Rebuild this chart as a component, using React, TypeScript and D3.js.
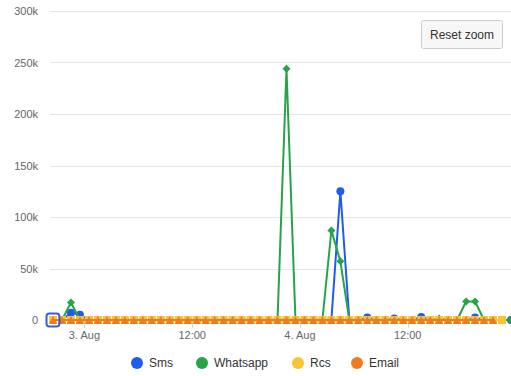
import * as d3 from "d3";
import { useEffect, useRef } from "react";

const WIDTH = 511;
const HEIGHT = 376;

// hourly points, first one at 2 Aug 20:30 UTC
const START = Date.UTC(2023, 7, 2, 20, 30);
const POINT_COUNT = 52;

const SMS = [
  0, 0, 7000, 5000, 0, 0, 0, 0, 0, 0, 0, 0, 0, 0, 0, 0, 0, 0, 0, 0, 0, 0, 0, 0, 0, 0,
  0, 0, 0, 0, 0, 0, 125000, 0, 0, 2500, 0, 0, 1500, 0, 0, 3000, 0, 0, 0, 0, 0, 2500, 0, 0, 0, 0,
];
const WHATSAPP = [
  0, 0, 17000, 0, 0, 0, 0, 0, 0, 0, 0, 0, 0, 0, 0, 0, 0, 0, 0, 0, 0, 0, 0, 0, 0, 0,
  244000, 0, 0, 0, 0, 87000, 57000, 0, 0, 0, 0, 0, 0, 0, 0, 0, 0, 1500, 0, 0, 18000, 18000, 0, 0, 0, 0,
];
const RCS = [
  0, 0, 0, 0, 0, 0, 0, 0, 0, 0, 0, 0, 0, 0, 0, 0, 0, 0, 0, 0, 0, 0, 0, 0, 0, 0,
  0, 0, 0, 0, 0, 0, 0, 0, 0, 0, 0, 0, 0, 0, 0, 0, 0, 0, 0, 0, 0, 0, 0, 0, 0,
];
const EMAIL = [
  0, 0, 0, 0, 0, 0, 0, 0, 0, 0, 0, 0, 0, 0, 0, 0, 0, 0, 0, 0, 0, 0, 0, 0, 0, 0,
  0, 0, 0, 0, 0, 0, 0, 0, 0, 0, 0, 0, 0, 0, 0, 0, 0, 0, 0, 0, 0, 0, 0, 0,
];

const Y_TICKS = [0, 50000, 100000, 150000, 200000, 250000, 300000];
const X_TICKS = [
  Date.UTC(2023, 7, 3, 0),
  Date.UTC(2023, 7, 3, 12),
  Date.UTC(2023, 7, 4, 0),
  Date.UTC(2023, 7, 4, 12),
];

const SERIES = [
  { name: "Sms", values: SMS, color: "#1f5bf0", symbol: "circle" },
  { name: "Whatsapp", values: WHATSAPP, color: "#27a348", symbol: "diamond" },
  { name: "Rcs", values: RCS, color: "#f5c533", symbol: "square" },
  { name: "Email", values: EMAIL, color: "#ef7a22", symbol: "triangle" },
];

const FONT = "'Liberation Sans', Arial, sans-serif";

function markerPath(symbol: string, x: number, y: number) {
  const r = 4;
  if (symbol === "diamond") return `M${x},${y - r}L${x + r},${y}L${x},${y + r}L${x - r},${y}Z`;
  if (symbol === "square") return `M${x - r},${y - r}h${2 * r}v${2 * r}h${-2 * r}Z`;
  if (symbol === "triangle") return `M${x},${y - r}L${x + r},${y + r}L${x - r},${y + r}Z`;
  return `M${x - r},${y}a${r},${r} 0 1,0 ${2 * r},0a${r},${r} 0 1,0 ${-2 * r},0`;
}

function formatTick(t: Date) {
  return t.getUTCHours() === 0 ? d3.utcFormat("%-d. %b")(t) : d3.utcFormat("%H:%M")(t);
}

const App = () => {
  const svgRef = useRef<SVGSVGElement | null>(null);

  useEffect(() => {
    if (!svgRef.current) return;
    const svg = d3.select(svgRef.current);
    svg.selectAll("*").remove();

    const times = d3.range(POINT_COUNT).map((i) => d3.utcHour.offset(new Date(START), i));

    const x = d3
      .scaleUtc()
      .domain([new Date(Date.UTC(2023, 7, 2, 20, 10)), new Date(Date.UTC(2023, 7, 4, 23, 30))])
      .range([50, 511]);
    const y = d3.scaleLinear().domain([0, 300000]).range([320, 11]);

    // grid
    svg
      .append("g")
      .selectAll("line")
      .data(Y_TICKS)
      .join("line")
      .attr("x1", 50)
      .attr("x2", WIDTH)
      .attr("y1", (d) => Math.round(y(d)) + 0.5)
      .attr("y2", (d) => Math.round(y(d)) + 0.5)
      .attr("stroke", "#e6e6e6");

    svg
      .append("g")
      .selectAll("text")
      .data(Y_TICKS)
      .join("text")
      .attr("x", 38)
      .attr("y", (d) => y(d) + 4)
      .attr("text-anchor", "end")
      .attr("fill", "#666")
      .style("font", `11px ${FONT}`)
      .text((d) => (d === 0 ? "0" : `${d / 1000}k`));

    // x axis
    const xAxis = svg.append("g");
    xAxis
      .selectAll("line")
      .data(X_TICKS)
      .join("line")
      .attr("x1", (d) => Math.round(x(new Date(d))) + 0.5)
      .attr("x2", (d) => Math.round(x(new Date(d))) + 0.5)
      .attr("y1", 320)
      .attr("y2", 328)
      .attr("stroke", "#ccd6eb");
    xAxis
      .selectAll("text")
      .data(X_TICKS)
      .join("text")
      .attr("x", (d) => x(new Date(d)))
      .attr("y", 339)
      .attr("text-anchor", "middle")
      .attr("fill", "#666")
      .style("font", `11px ${FONT}`)
      .text((d) => formatTick(new Date(d)));

    // series
    SERIES.forEach((s) => {
      const pts = s.values.map((v, i) => [x(times[i]), y(v)] as [number, number]);
      const g = svg.append("g");
      g.append("path")
        .attr("d", d3.line()(pts))
        .attr("fill", "none")
        .attr("stroke", s.color)
        .attr("stroke-width", 2)
        .attr("stroke-linejoin", "round");
      g.selectAll("path.marker")
        .data(pts)
        .join("path")
        .attr("class", "marker")
        .attr("d", (p) => markerPath(s.symbol, p[0], p[1]))
        .attr("fill", s.color);
    });

    // focus border on first point
    svg
      .append("rect")
      .attr("x", x(times[0]) - 6.5)
      .attr("y", y(0) - 6.5)
      .attr("width", 13)
      .attr("height", 13)
      .attr("rx", 3)
      .attr("fill", "none")
      .attr("stroke", "#3b5bdb")
      .attr("stroke-width", 2);

    // legend
    const legendX = [137, 202, 298, 357];
    const legend = svg
      .append("g")
      .selectAll("g")
      .data(SERIES)
      .join("g")
      .attr("transform", (_, i) => `translate(${legendX[i]},363)`);
    legend.append("circle").attr("r", 6).attr("fill", (d) => d.color);
    legend
      .append("text")
      .attr("x", 12)
      .attr("y", 4)
      .attr("fill", "#333")
      .style("font", `12px ${FONT}`)
      .text((d) => d.name);

    // reset zoom button
    const btn = svg.append("g").attr("transform", "translate(421,20)");
    btn
      .append("rect")
      .attr("x", 0.5)
      .attr("y", 0.5)
      .attr("width", 81)
      .attr("height", 28)
      .attr("rx", 2)
      .attr("fill", "#f7f7f7")
      .attr("stroke", "#cccccc");
    btn
      .append("text")
      .attr("x", 41)
      .attr("y", 19)
      .attr("text-anchor", "middle")
      .attr("fill", "#333")
      .style("font", `12px ${FONT}`)
      .text("Reset zoom");
  }, []);

  return (
    <svg
      ref={svgRef}
      width={WIDTH}
      height={HEIGHT}
      style={{ position: "absolute", left: 0, top: 0, background: "#fff" }}
    />
  );
};

export default App;
